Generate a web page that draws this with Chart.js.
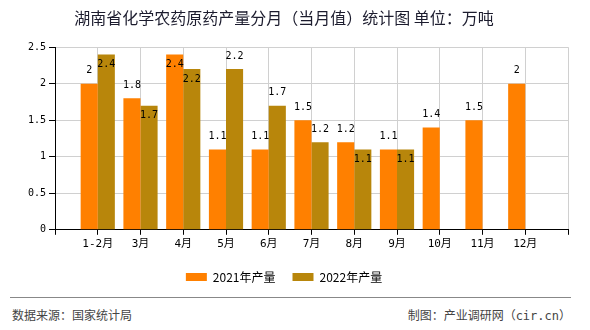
<!DOCTYPE html>
<html>
<head>
<meta charset="utf-8">
<script src="https://cdn.jsdelivr.net/npm/chart.js@4.4.1/dist/chart.umd.min.js"></script>
<style>
  html, body { margin: 0; padding: 0; background: #fff; }
  #wrap { position: relative; width: 590px; height: 330px; overflow: hidden; }
  #chartBox { position: absolute; left: 0; top: 0; width: 590px; height: 294px; }
  #rule { position: absolute; left: 10px; top: 297px; width: 561px; height: 0; border-top: 1px solid #888; }
  .foot { position: absolute; top: 307px; font-size: 12px; line-height: 18px; color: #444;
          font-family: 'DejaVu Sans Mono', 'Noto Sans CJK SC', sans-serif; white-space: nowrap; }
  #src { left: 12px; }
  #credit { right: 19px; }
</style>
</head>
<body>
<div id="wrap">
  <div id="chartBox"><canvas id="myChart"></canvas></div>
  <div id="rule"></div>
  <div class="foot" id="src">数据来源：国家统计局</div>
  <div class="foot" id="credit">制图：产业调研网（cir.cn）</div>
</div>
<script>
// months, with an empty slot at each end so the axis runs edge to edge
const months = ['', '1-2月', '3月', '4月', '5月', '6月', '7月', '8月', '9月', '10月', '11月', '12月', ''];
const output2021 = [null, 2, 1.8, 2.4, 1.1, 1.1, 1.5, 1.2, 1.1, 1.4, 1.5, 2, null];
const output2022 = [null, 2.4, 1.7, 2.2, 2.2, 1.7, 1.2, 1.1, 1.1, null, null, null, null];
const seriesNames = ['2021年产量', '2022年产量'];
const yTicks = [0, 0.5, 1, 1.5, 2, 2.5];
const yTickLabels = ['0', '0.5', '1', '1.5', '2', '2.5'];

const monoFont = "'DejaVu Sans Mono', 'Noto Sans CJK SC', monospace";

// value labels: above the bar, or inside its top when there is no room
const valueLabels = {
    id: 'valueLabels',
    afterDatasetsDraw(chart) {
        const ctx = chart.ctx;
        const area = chart.chartArea;
        const gap = 8, inset = 5, h = 10;
        ctx.save();
        ctx.font = '10px ' + monoFont;
        ctx.fillStyle = '#000';
        ctx.textAlign = 'center';
        ctx.textBaseline = 'top';
        const placed = [];
        chart.data.datasets.forEach((ds, di) => {
            const meta = chart.getDatasetMeta(di);
            meta.data.forEach((bar, i) => {
                const v = ds.data[i];
                if (v === null || v === undefined) return;
                let y = bar.y - gap - h;
                let inside = y < area.top;
                if (!inside && di > 0 && placed[i] !== undefined) {
                    const oy = placed[i];
                    if (y < oy + h && y + h > oy) inside = true;
                }
                if (inside) y = bar.y + inset;
                if (di === 0) placed[i] = y;
                ctx.fillText(String(v), bar.x, y);
            });
        });
        ctx.restore();
    }
};

const ctx = document.getElementById('myChart').getContext('2d');
new Chart(ctx, {
    type: 'bar',
    data: {
        labels: months,
        datasets: [{
            label: seriesNames[0],
            data: output2021,
            backgroundColor: '#FF8000',
            borderWidth: 0,
            categoryPercentage: 0.8,
            barPercentage: 1
        }, {
            label: seriesNames[1],
            data: output2022,
            backgroundColor: '#B8860B',
            borderWidth: 0,
            categoryPercentage: 0.8,
            barPercentage: 1
        }]
    },
    options: {
        responsive: true,
        maintainAspectRatio: false,
        animation: false,
        layout: { padding: { left: 0, right: 22, top: 0, bottom: 1 } },
        plugins: {
            title: {
                display: true,
                text: '湖南省化学农药原药产量分月（当月值）统计图 单位：万吨',
                color: '#1c1c2e',
                font: { family: "'Noto Sans CJK SC', sans-serif", size: 16, weight: 'normal' },
                padding: { top: 8, bottom: 20 }
            },
            legend: {
                position: 'bottom',
                labels: {
                    boxWidth: 21,
                    boxHeight: 8,
                    color: '#000',
                    font: { family: "'Noto Sans CJK SC', sans-serif", size: 12 },
                    padding: 17
                }
            },
            tooltip: { enabled: false }
        },
        scales: {
            x: {
                offset: false,
                grid: { offset: false, color: '#d0d0d0', tickColor: '#000', tickLength: 5 },
                border: { color: '#000' },
                ticks: {
                    autoSkip: false,
                    maxRotation: 0,
                    color: '#000',
                    font: { family: monoFont, size: 11 },
                    padding: 3
                }
            },
            y: {
                min: 0,
                max: yTicks[yTicks.length - 1],
                afterBuildTicks: s => { s.ticks = yTicks.map(v => ({ value: v })); },
                afterFit: s => { s.width = 55; },
                grid: { color: '#d0d0d0', tickColor: '#000', tickLength: 6 },
                border: { color: '#000' },
                ticks: {
                    color: '#000',
                    font: { family: monoFont, size: 10 },
                    padding: 3,
                    callback: (value, index) => yTickLabels[index]
                }
            }
        }
    },
    plugins: [valueLabels]
});
</script>
</body>
</html>
